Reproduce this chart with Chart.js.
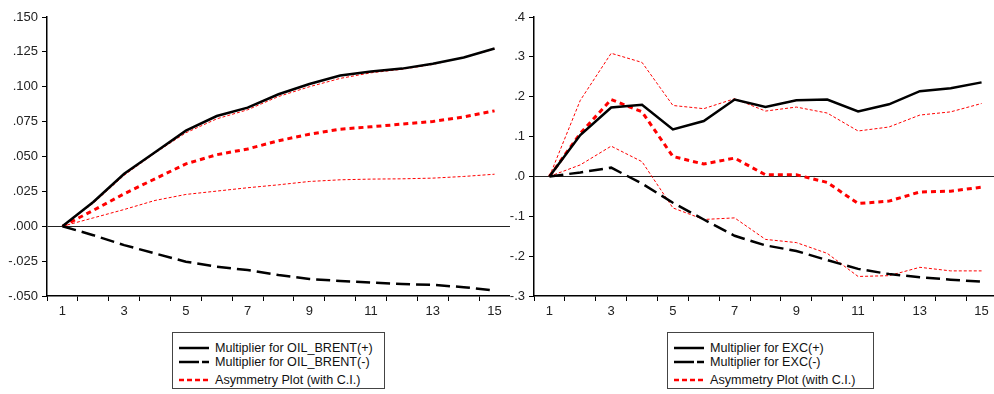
<!DOCTYPE html>
<html>
<head>
<meta charset="utf-8">
<script src="https://cdn.jsdelivr.net/npm/chart.js@4"></script>
<style>
  body { margin: 0; width: 994px; height: 394px; overflow: hidden; background: #fff; position: relative; font-family: "Liberation Sans", Arial, sans-serif; }
  .panel { position: absolute; top: 0; }
  .legend { position: absolute; top: 332px; height: 57px; border: 1px solid #444; box-sizing: border-box; font-size: 12.6px; color: #111; }
  .legend .row { position: absolute; left: 0; height: 14px; display: flex; align-items: center; white-space: nowrap; }
  .legend svg { margin-left: 6px; margin-right: 6px; }
</style>
</head>
<body>
<div class="panel" style="left:0"><canvas id="oil" width="510" height="320"></canvas></div>
<div class="panel" style="left:494px"><canvas id="exc" width="503" height="320"></canvas></div>
<div id="legend-oil" class="legend" style="left:172px;width:213px"></div>
<div id="legend-exc" class="legend" style="left:667px;width:207px"></div>
<script>
const periods = ['1','2','3','4','5','6','7','8','9','10','11','12','13','14','15'];

// OIL_BRENT panel
const oilPlus  = [0, .0174, .0376, .053, .0685, .079, .085, .0946, .102, .108, .111, .113, .1165, .121, .1274];
const oilMinus = [0, -.0064, -.0135, -.0195, -.0254, -.029, -.0314, -.035, -.0378, -.0392, -.0404, -.0414, -.042, -.0437, -.046];
const oilAsym  = [0, .0114, .0233, .034, .0447, .0513, .0554, .0613, .066, .0696, .0713, .0732, .0751, .0784, .0827];
const oilUpper = [0, .0165, .0365, .0525, .067, .077, .0835, .093, .100, .106, .110, .1125, .116, .121, .127];
const oilLower = [0, .006, .012, .0185, .0228, .0252, .0276, .0297, .0321, .0333, .0338, .034, .0345, .0357, .0373];

// EXC panel
const excPlus  = [0, .104, .173, .180, .118, .139, .193, .174, .191, .193, .163, .181, .214, .221, .236];
const excMinus = [0, .010, .022, -.018, -.066, -.108, -.149, -.173, -.187, -.210, -.232, -.245, -.253, -.259, -.264];
const excAsym  = [0, .108, .193, .162, .050, .031, .046, .004, .004, -.015, -.068, -.062, -.039, -.037, -.027];
const excUpper = [0, .191, .309, .286, .178, .170, .195, .164, .174, .159, .114, .124, .154, .162, .183];
const excLower = [0, .029, .076, .037, -.079, -.108, -.104, -.158, -.166, -.193, -.251, -.249, -.228, -.237, -.237];

const legendLabels = {
    oil: ['Multiplier for OIL_BRENT(+)', 'Multiplier for OIL_BRENT(-)', 'Asymmetry Plot (with C.I.)'],
    exc: ['Multiplier for EXC(+)', 'Multiplier for EXC(-)', 'Asymmetry Plot (with C.I.)']
};

const tickFont = { family: '"Liberation Sans", Arial, sans-serif', size: 13 };

function makeChart(id, series, yOpts, yWidth) {
    const ctx = document.getElementById(id).getContext('2d');
    return new Chart(ctx, {
        type: 'line',
        data: {
            labels: periods,
            datasets: [
                { data: series[0], borderColor: '#000', borderWidth: 2.5, order: 1 },
                { data: series[1], borderColor: '#000', borderWidth: 2.5, borderDash: [14, 6], order: 2 },
                { data: series[2], borderColor: '#f00', borderWidth: 3, borderDash: [5, 4], order: 3 },
                { data: series[3], borderColor: '#f00', borderWidth: 1, borderDash: [3, 2], order: 4 },
                { data: series[4], borderColor: '#f00', borderWidth: 1, borderDash: [3, 2], order: 5 }
            ]
        },
        options: {
            responsive: false,
            animation: false,
            elements: { point: { radius: 0 }, line: { tension: 0, fill: false } },
            layout: { padding: { top: 17, right: 0, left: 0, bottom: 0 } },
            plugins: { legend: { display: false }, tooltip: { enabled: false } },
            scales: {
                x: {
                    type: 'category',
                    offset: true,
                    grid: { offset: true, drawOnChartArea: false, drawTicks: true, tickLength: 5, color: '#000' },
                    border: { display: true, color: '#000', width: 1.5 },
                    ticks: {
                        autoSkip: false, maxRotation: 0, padding: 3, color: '#222', font: tickFont,
                        callback: (v, i) => i % 2 === 0 ? periods[i] : ''
                    },
                    afterFit: (scale) => { scale.height = 24; }
                },
                y: {
                    min: yOpts.min, max: yOpts.max,
                    grid: {
                        drawTicks: true, tickLength: 5, tickColor: '#000', lineWidth: 1,
                        color: (c) => (c.tick && Math.abs(c.tick.value) < 1e-9) ? '#222' : 'rgba(0,0,0,0)'
                    },
                    border: { display: true, color: '#000', width: 1.5 },
                    ticks: {
                        stepSize: yOpts.step, padding: 4, color: '#222', font: tickFont,
                        callback: (v) => v.toFixed(yOpts.dec).replace('0.', '.')
                    },
                    afterFit: (scale) => { scale.width = yWidth; }
                }
            }
        }
    });
}

makeChart('oil', [oilPlus, oilMinus, oilAsym, oilUpper, oilLower], { min: -0.05, max: 0.15, step: 0.025, dec: 3 }, 47);
makeChart('exc', [excPlus, excMinus, excAsym, excUpper, excLower], { min: -0.3, max: 0.4, step: 0.1, dec: 1 }, 40);

function buildLegend(id, labels) {
    const box = document.getElementById(id);
    const styles = [
        '<line x1="0" y1="5" x2="30" y2="5" stroke="#000" stroke-width="2.5"/>',
        '<line x1="0" y1="5" x2="30" y2="5" stroke="#000" stroke-width="2.5" stroke-dasharray="20 3 7"/>',
        '<line x1="0" y1="5" x2="30" y2="5" stroke="#f00" stroke-width="2.5" stroke-dasharray="5 3"/>'
    ];
    const tops = [8, 22, 40];
    labels.forEach((label, i) => {
        const row = document.createElement('div');
        row.className = 'row';
        row.style.top = tops[i] + 'px';
        row.innerHTML = '<svg width="30" height="10">' + styles[i] + '</svg><span>' + label + '</span>';
        box.appendChild(row);
    });
}
buildLegend('legend-oil', legendLabels.oil);
buildLegend('legend-exc', legendLabels.exc);
</script>
</body>
</html>
